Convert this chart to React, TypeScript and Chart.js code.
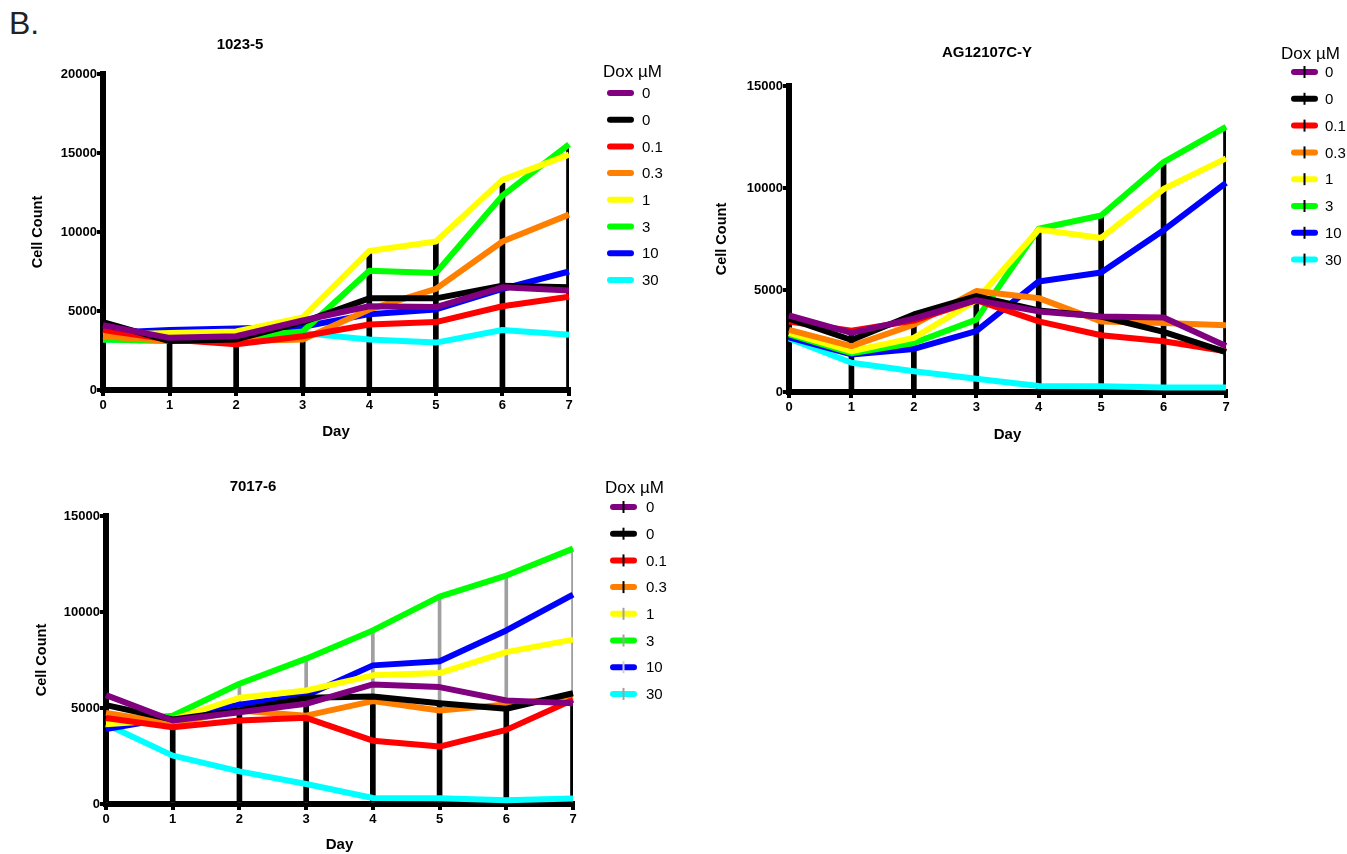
import React, { useEffect, useRef } from "react";
import { Chart, registerables } from "chart.js";

Chart.register(...registerables);

document.body.style.margin = "0";

// ---------- data ----------
const days = ["0", "1", "2", "3", "4", "5", "6", "7"];
const doseLabels = ["0", "0", "0.1", "0.3", "1", "3", "10", "30"];
const seriesColors = ["#800080", "#000000", "#FF0000", "#FF8000", "#FFFF00", "#00FF00", "#0000FF", "#00FFFF"];

// Panel 1: 1023-5
const p1Purple = [4100, 3300, 3400, 4400, 5300, 5250, 6500, 6300];
const p1Black = [4300, 3100, 3200, 4300, 5800, 5800, 6600, 6500];
const p1Red = [3800, 3200, 2900, 3400, 4150, 4300, 5300, 5900];
const p1Orange = [3400, 3100, 3100, 3200, 5100, 6400, 9400, 11100];
const p1Yellow = [3500, 3600, 3700, 4600, 8800, 9400, 13300, 14900];
const p1Green = [3200, 3100, 3300, 3700, 7550, 7400, 12300, 15550];
const p1Blue = [3600, 3800, 3900, 4000, 4800, 5100, 6400, 7500];
const p1Cyan = [3200, 3100, 3300, 3600, 3200, 3000, 3800, 3500];
const p1ErrTop = [4300, 3100, 3200, 4300, 8700, 9300, 13100, 15400];

// Panel 2: AG12107C-Y
const p2Purple = [3750, 2900, 3600, 4500, 3950, 3700, 3650, 2250];
const p2Black = [3600, 2550, 3800, 4700, 4000, 3700, 2950, 1950];
const p2Red = [3450, 3000, 3500, 4500, 3460, 2780, 2490, 2000];
const p2Orange = [3050, 2250, 3300, 4950, 4600, 3460, 3380, 3270];
const p2Yellow = [2900, 2000, 2650, 4500, 7970, 7550, 9950, 11450];
const p2Green = [2820, 1900, 2400, 3550, 8000, 8650, 11270, 13000];
const p2Blue = [2680, 1840, 2110, 2980, 5420, 5860, 7930, 10250];
const p2Cyan = [2620, 1430, 1020, 650, 290, 280, 220, 220];
const p2ErrTop = [3750, 3000, 3800, 4950, 8000, 8600, 11300, 13000];

// Panel 3: 7017-6
const p3Purple = [5670, 4350, 4780, 5220, 6230, 6090, 5390, 5250];
const p3Black = [5150, 4400, 4870, 5530, 5600, 5250, 4960, 5770];
const p3Red = [4480, 4000, 4350, 4490, 3300, 2990, 3860, 5430];
const p3Orange = [4740, 4200, 4870, 4600, 5360, 4870, 5180, 5570];
const p3Yellow = [4150, 4400, 5530, 5910, 6700, 6820, 7910, 8560];
const p3Green = [4300, 4600, 6260, 7570, 9040, 10800, 11900, 13300];
const p3Blue = [3900, 4500, 5170, 5650, 7220, 7440, 9040, 10900];
const p3Cyan = [4150, 2520, 1700, 1040, 310, 300, 200, 280];
const p3ErrTopBlack = [5150, 4400, 5000, 5500, 5600, 5300, 4900, 5800];
const p3ErrTopGray = [5150, 4400, 6300, 7600, 9100, 10800, 12000, 13300];

// ---------- helpers ----------
const FONT = "'Liberation Sans', Arial, Helvetica, sans-serif";

function lineSets(values: number[][]) {
  return values.map((v, i) => ({
    type: "line" as const,
    label: doseLabels[i],
    data: v,
    borderColor: seriesColors[i],
    backgroundColor: seriesColors[i],
    borderWidth: 6,
    pointRadius: 0,
    tension: 0,
    fill: false,
    borderJoinStyle: "round" as const,
    order: 0,
  }));
}

function errSet(tops: number[], color: string, thickness: number, order: number) {
  return {
    type: "bar" as const,
    label: "__err",
    data: tops.map((t) => [0, t]),
    backgroundColor: color,
    borderWidth: 0,
    barThickness: thickness,
    grouped: false,
    order,
  };
}

type LegendCfg = {
  titleX: number;
  titleY: number;
  itemY0: number;
  dy: number;
  symX0: number;
  symX1: number;
  textX: number;
  ticks: (string | null)[];
};

type PanelCfg = {
  left: number;
  top: number;
  width: number;
  height: number;
  yMax: number;
  yAxisWidth: number;
  xAxisHeight: number;
  padTop: number;
  padRight: number;
  yTitlePad: number;
  xTitlePad: number;
  title: string;
  titleX: number;
  titleY: number;
  legend: LegendCfg;
  datasets: any[];
};

const titlePlugin = {
  id: "panelTitle",
  afterDraw(chart: any) {
    const o = chart.options.plugins.panelTitle;
    if (!o) return;
    const ctx = chart.ctx;
    ctx.save();
    ctx.font = "bold 15px " + FONT;
    ctx.fillStyle = "#000";
    ctx.textAlign = "center";
    ctx.textBaseline = "middle";
    ctx.fillText(o.text, o.x, o.y);
    ctx.restore();
  },
};

const legendPlugin = {
  id: "doseLegend",
  afterDraw(chart: any) {
    const o: LegendCfg = chart.options.plugins.doseLegend;
    if (!o) return;
    const ctx = chart.ctx;
    ctx.save();
    ctx.fillStyle = "#000";
    ctx.textBaseline = "middle";
    ctx.textAlign = "left";
    ctx.font = "17px " + FONT;
    ctx.fillText("Dox \u00B5M", o.titleX, o.titleY);
    const sets = chart.data.datasets.filter((d: any) => d.type === "line");
    sets.forEach((d: any, i: number) => {
      const y = o.itemY0 + i * o.dy;
      ctx.lineCap = "round";
      ctx.strokeStyle = d.borderColor;
      ctx.lineWidth = 6;
      ctx.beginPath();
      ctx.moveTo(o.symX0 + 3, y);
      ctx.lineTo(o.symX1 - 3, y);
      ctx.stroke();
      const tc = o.ticks[i];
      if (tc) {
        ctx.lineCap = "butt";
        ctx.strokeStyle = tc;
        ctx.lineWidth = 2;
        const cx = (o.symX0 + o.symX1) / 2;
        ctx.beginPath();
        ctx.moveTo(cx, y - 6);
        ctx.lineTo(cx, y + 6);
        ctx.stroke();
      }
      ctx.fillStyle = "#000";
      ctx.font = "15px " + FONT;
      ctx.fillText(d.label, o.textX, y + 1);
    });
    ctx.restore();
  },
};

const panels: PanelCfg[] = [
  {
    left: 0,
    top: 0,
    width: 700,
    height: 450,
    yMax: 20000,
    yAxisWidth: 103,
    xAxisHeight: 60,
    padTop: 74,
    padRight: 131,
    yTitlePad: 29,
    xTitlePad: 9,
    title: "1023-5",
    titleX: 240,
    titleY: 45,
    legend: {
      titleX: 603,
      titleY: 72,
      itemY0: 93,
      dy: 26.7,
      symX0: 607,
      symX1: 634,
      textX: 642,
      ticks: [null, null, null, null, null, null, null, null],
    },
    datasets: [
      ...lineSets([p1Purple, p1Black, p1Red, p1Orange, p1Yellow, p1Green, p1Blue, p1Cyan]),
      errSet(p1ErrTop, "#000000", 5, 10),
    ],
  },
  {
    left: 680,
    top: 0,
    width: 667,
    height: 450,
    yMax: 15000,
    yAxisWidth: 109,
    xAxisHeight: 58,
    padTop: 86,
    padRight: 121,
    yTitlePad: 33,
    xTitlePad: 6,
    title: "AG12107C-Y",
    titleX: 307,
    titleY: 53,
    legend: {
      titleX: 601,
      titleY: 54,
      itemY0: 72,
      dy: 26.8,
      symX0: 611,
      symX1: 638,
      textX: 645,
      ticks: ["#000", "#000", "#000", "#000", "#000", "#000", "#000", "#000"],
    },
    datasets: [
      ...lineSets([p2Purple, p2Black, p2Red, p2Orange, p2Yellow, p2Green, p2Blue, p2Cyan]),
      errSet(p2ErrTop, "#000000", 5, 10),
    ],
  },
  {
    left: 0,
    top: 450,
    width: 700,
    height: 404,
    yMax: 15000,
    yAxisWidth: 106,
    xAxisHeight: 50,
    padTop: 66,
    padRight: 127,
    yTitlePad: 33,
    xTitlePad: 0,
    title: "7017-6",
    titleX: 253,
    titleY: 37,
    legend: {
      titleX: 605,
      titleY: 38,
      itemY0: 57,
      dy: 26.7,
      symX0: 610,
      symX1: 637,
      textX: 646,
      ticks: ["#000", "#000", "#000", "#000", "#A0A0A0", "#A0A0A0", "#D0D0D0", "#A0A0A0"],
    },
    datasets: [
      ...lineSets([p3Purple, p3Black, p3Red, p3Orange, p3Yellow, p3Green, p3Blue, p3Cyan]),
      errSet(p3ErrTopGray, "#A0A0A0", 3, 20),
      errSet(p3ErrTopBlack, "#000000", 5, 10),
    ],
  },
];

function Panel({ cfg }: { cfg: PanelCfg }) {
  const ref = useRef<HTMLCanvasElement | null>(null);
  useEffect(() => {
    if (!ref.current) return;
    const chart = new Chart(ref.current, {
      type: "line",
      data: { labels: days, datasets: cfg.datasets },
      plugins: [titlePlugin, legendPlugin],
      options: {
        responsive: false,
        animation: false,
        events: [],
        layout: { padding: { top: cfg.padTop, right: cfg.padRight, left: 0, bottom: 0 } },
        plugins: {
          legend: { display: false },
          tooltip: { enabled: false },
          title: { display: false },
          panelTitle: { text: cfg.title, x: cfg.titleX, y: cfg.titleY },
          doseLegend: cfg.legend,
        } as any,
        scales: {
          x: {
            type: "category",
            offset: false,
            grid: {
              offset: false,
              drawOnChartArea: false,
              drawTicks: true,
              tickLength: 6,
              lineWidth: 4,
              color: "#000",
            },
            border: { display: true, width: 6, color: "#000" },
            ticks: {
              color: "#000",
              padding: 2,
              maxRotation: 0,
              font: { family: FONT, size: 13, weight: "bold" },
            },
            title: {
              display: true,
              text: "Day",
              color: "#000",
              font: { family: FONT, size: 15, weight: "bold" },
              padding: { top: 0, bottom: cfg.xTitlePad },
            },
            afterFit(scale: any) {
              scale.height = cfg.xAxisHeight;
            },
          },
          y: {
            type: "linear",
            min: 0,
            max: cfg.yMax,
            grid: {
              drawOnChartArea: false,
              drawTicks: true,
              tickLength: 6,
              lineWidth: 4,
              color: "#000",
            },
            border: { display: true, width: 6, color: "#000" },
            ticks: {
              stepSize: 5000,
              color: "#000",
              padding: 0,
              font: { family: FONT, size: 13, weight: "bold" },
              callback: (v: any) => String(v),
            },
            title: {
              display: true,
              text: "Cell Count",
              color: "#000",
              font: { family: FONT, size: 14.5, weight: "bold" },
              padding: { top: cfg.yTitlePad, bottom: 0 },
            },
            afterFit(scale: any) {
              scale.width = cfg.yAxisWidth;
            },
          },
        },
      } as any,
    });
    return () => chart.destroy();
  }, [cfg]);
  return (
    <canvas
      ref={ref}
      width={cfg.width}
      height={cfg.height}
      style={{ position: "absolute", left: cfg.left, top: cfg.top, width: cfg.width, height: cfg.height }}
    />
  );
}

export default function App() {
  return (
    <div style={{ position: "relative", width: 1347, height: 854, background: "#fff", overflow: "hidden" }}>
      <div
        style={{
          position: "absolute",
          left: 9,
          top: 7,
          fontFamily: FONT,
          fontSize: 32,
          lineHeight: "32px",
          color: "#222",
        }}
      >
        B.
      </div>
      {panels.map((p, i) => (
        <Panel key={i} cfg={p} />
      ))}
    </div>
  );
}
